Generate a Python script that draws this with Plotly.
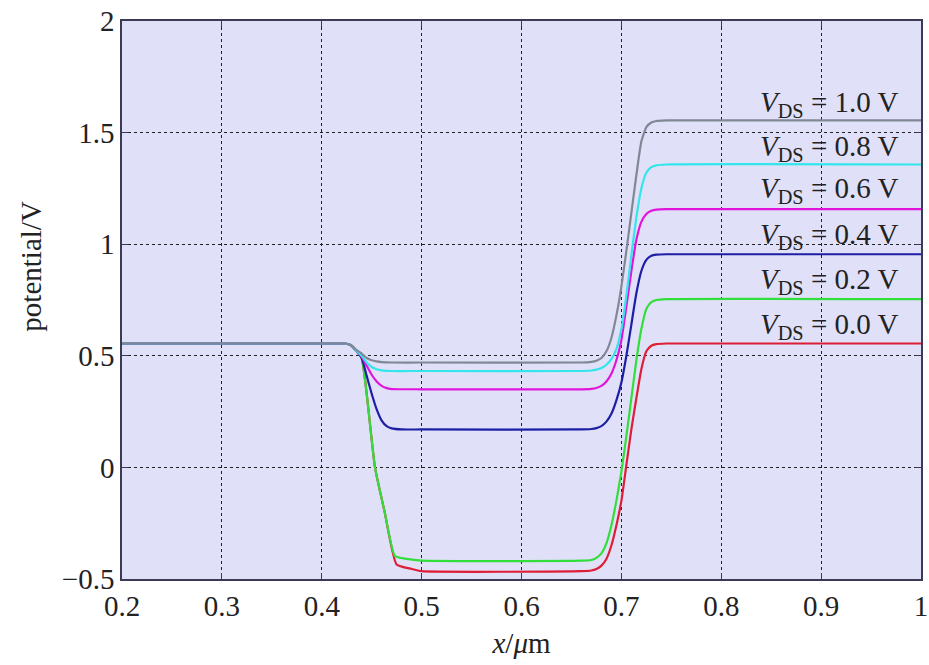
import plotly.graph_objects as go

# Channel potential profiles along x for different drain-source voltages
x_00 = [0.2, 0.42, 0.426, 0.43, 0.435, 0.44, 0.4533, 0.463, 0.475, 0.49, 0.5, 0.66, 0.67, 0.675, 0.68,
        0.685, 0.69, 0.695, 0.70, 0.705, 0.71, 0.715, 0.72, 0.725, 0.73, 0.735, 0.745, 1.0]
y_00 = [0.555, 0.555, 0.553, 0.545, 0.52, 0.49, 0.0, -0.2, -0.435, -0.455, -0.465, -0.465, -0.462, -0.455, -0.44,
        -0.41, -0.35, -0.26, -0.15, 0.01, 0.17, 0.31, 0.44, 0.52, 0.545, 0.552, 0.555, 0.555]

x_02 = [0.2, 0.42, 0.426, 0.43, 0.435, 0.44, 0.4533, 0.463, 0.4733, 0.485, 0.5, 0.66, 0.67, 0.675, 0.68,
        0.685, 0.69, 0.695, 0.70, 0.705, 0.71, 0.715, 0.72, 0.725, 0.73, 0.735, 0.745, 1.0]
y_02 = [0.555, 0.555, 0.553, 0.545, 0.52, 0.49, 0.0, -0.2, -0.397, -0.41, -0.418, -0.418, -0.415, -0.405, -0.385,
        -0.34, -0.26, -0.15, -0.02, 0.14, 0.31, 0.48, 0.62, 0.71, 0.74, 0.75, 0.754, 0.754]

x_04 = [0.2, 0.42, 0.426, 0.43, 0.435, 0.44, 0.445, 0.45, 0.455, 0.46, 0.465, 0.47, 0.48, 0.5, 0.66, 0.67,
        0.675, 0.68, 0.685, 0.69, 0.695, 0.70, 0.705, 0.71, 0.715, 0.72, 0.725, 0.73, 0.735, 0.745, 1.0]
y_04 = [0.555, 0.555, 0.553, 0.545, 0.52, 0.49, 0.41, 0.33, 0.26, 0.21, 0.185, 0.175, 0.17, 0.17, 0.17, 0.172,
        0.176, 0.185, 0.205, 0.24, 0.30, 0.38, 0.50, 0.64, 0.78, 0.88, 0.93, 0.948, 0.953, 0.955, 0.955]

x_06 = [0.2, 0.42, 0.426, 0.43, 0.435, 0.44, 0.445, 0.45, 0.455, 0.46, 0.465, 0.47, 0.5, 0.66, 0.67, 0.675,
        0.68, 0.685, 0.69, 0.695, 0.70, 0.705, 0.71, 0.715, 0.72, 0.725, 0.73, 0.735, 0.745, 1.0]
y_06 = [0.555, 0.555, 0.553, 0.545, 0.52, 0.495, 0.455, 0.415, 0.385, 0.365, 0.355, 0.351, 0.35, 0.35, 0.352, 0.356,
        0.365, 0.385, 0.42, 0.48, 0.57, 0.72, 0.88, 1.02, 1.1, 1.135, 1.15, 1.155, 1.157, 1.157]

x_08 = [0.2, 0.42, 0.426, 0.43, 0.435, 0.44, 0.445, 0.45, 0.455, 0.46, 0.47, 0.5, 0.66, 0.67, 0.675, 0.68,
        0.685, 0.69, 0.695, 0.70, 0.705, 0.71, 0.715, 0.72, 0.725, 0.73, 0.735, 0.745, 1.0]
y_08 = [0.555, 0.555, 0.553, 0.545, 0.52, 0.5, 0.47, 0.45, 0.44, 0.435, 0.432, 0.432, 0.432, 0.434, 0.438, 0.445,
        0.46, 0.485, 0.53, 0.62, 0.77, 0.95, 1.12, 1.25, 1.32, 1.345, 1.353, 1.357, 1.357]

x_10 = [0.2, 0.42, 0.426, 0.43, 0.435, 0.44, 0.445, 0.45, 0.455, 0.46, 0.47, 0.5, 0.66, 0.67, 0.675, 0.68,
        0.685, 0.69, 0.695, 0.70, 0.705, 0.71, 0.715, 0.72, 0.725, 0.73, 0.735, 0.745, 1.0]
y_10 = [0.555, 0.555, 0.553, 0.545, 0.525, 0.51, 0.49, 0.48, 0.475, 0.472, 0.47, 0.47, 0.47, 0.473, 0.478, 0.49,
        0.52, 0.58, 0.68, 0.81, 0.97, 1.14, 1.31, 1.46, 1.525, 1.545, 1.552, 1.555, 1.555]

vds_labels = ["1.0", "0.8", "0.6", "0.4", "0.2", "0.0"]
label_y = [1.63, 1.43, 1.245, 1.035, 0.835, 0.635]

x_ticks = [0.2, 0.3, 0.4, 0.5, 0.6, 0.7, 0.8, 0.9, 1.0]
x_ticktext = ["0.2", "0.3", "0.4", "0.5", "0.6", "0.7", "0.8", "0.9", "1"]
y_ticks = [-0.5, 0, 0.5, 1, 1.5, 2]
y_ticktext = ["\u22120.5", "0", "0.5", "1", "1.5", "2"]

series = [
    ("0.0", x_00, y_00, "rgb(222,30,55)"),
    ("0.2", x_02, y_02, "rgb(50,222,60)"),
    ("0.4", x_04, y_04, "rgb(30,30,165)"),
    ("0.6", x_06, y_06, "rgb(225,20,220)"),
    ("0.8", x_08, y_08, "rgb(50,230,235)"),
    ("1.0", x_10, y_10, "rgb(128,136,150)"),
]

FONT = "'Liberation Serif', 'Times New Roman', serif"
FS = 29
TXT = "#222"

fig = go.Figure()
for name, xs, ys, col in series:
    fig.add_trace(go.Scatter(
        x=xs, y=ys, mode="lines", name=name,
        line=dict(color=col, width=2.2, shape="spline", smoothing=0.5),
        showlegend=False, hoverinfo="skip",
    ))

for txt, yv in zip(vds_labels, label_y):
    fig.add_annotation(
        x=0.979, y=yv, xref="x", yref="y", xanchor="right", yanchor="middle",
        text=f"<i>V</i><sub>DS</sub> = {txt} V", showarrow=False,
        font=dict(family=FONT, size=FS, color=TXT),
    )

# y-axis title placed as a rotated annotation, slightly above the plot's centre
fig.add_annotation(
    x=-0.115, y=0.56, xref="paper", yref="paper", xanchor="center", yanchor="middle",
    text="potential/V", textangle=-90, showarrow=False,
    font=dict(family=FONT, size=FS, color=TXT),
)

axis_common = dict(
    showline=True, mirror="ticks", linecolor="#3a3a55", linewidth=1.5,
    ticks="inside", ticklen=6, tickcolor="#3a3a55",
    showgrid=True, gridcolor="#222", griddash="dot", gridwidth=1,
    zeroline=False, tickfont=dict(family=FONT, size=FS, color=TXT),
)

fig.update_xaxes(
    range=[0.2, 1.0], tickvals=x_ticks, ticktext=x_ticktext,
    title=dict(text="<i>x</i>/<i>\u03bc</i>m", font=dict(family=FONT, size=FS, color=TXT), standoff=12),
    **axis_common,
)
fig.update_yaxes(
    range=[-0.5, 2.0], tickvals=y_ticks, ticktext=y_ticktext,
    **axis_common,
)

fig.update_layout(
    width=929, height=665,
    margin=dict(l=122, r=8, t=21, b=86, autoexpand=False),
    paper_bgcolor="white", plot_bgcolor="rgb(224,224,248)",
)

fig.write_html("out.html")
